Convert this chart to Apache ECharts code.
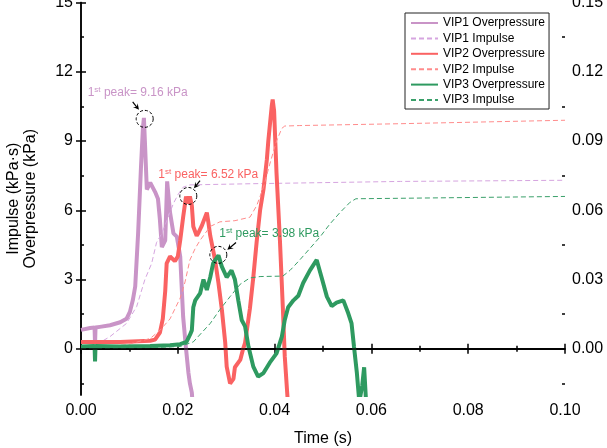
<!DOCTYPE html>
<html><head><meta charset="utf-8">
<script src="https://cdn.jsdelivr.net/npm/echarts@6/dist/echarts.min.js"></script>
<style>html,body{margin:0;padding:0;background:#fff}#c{width:607px;height:448px}</style>
</head><body><div id="c"></div>
<script>
// ---- data (time in s, overpressure in kPa, impulse in kPa·s) ----
const vip1OpT = [0,0.0019,0.0028,0.0029,0.0030,0.0039,0.0060,0.0081,0.0094,0.0101,0.0107,0.0112,0.0118,0.0124,0.0128,0.0130,0.0132,0.0136,0.0143,0.0153,0.0159,0.0163,0.0167,0.0174,0.0178,0.0184,0.0191,0.0198,0.0205,0.0208,0.0211,0.0217,0.0222,0.0225,0.0229,0.0231];
const vip1OpV = [0.82,0.90,0.92,0.20,0.92,0.95,1.02,1.15,1.30,1.60,2.10,2.70,5.00,7.90,9.60,10.00,9.00,6.90,7.20,6.80,6.50,5.60,4.40,4.70,7.25,5.90,5.00,4.86,4.00,2.70,1.40,0.00,-1.05,-1.50,-1.90,-2.50];

const vip2OpT = [0,0.0081,0.0143,0.0153,0.0163,0.0169,0.0174,0.0177,0.0184,0.0194,0.0200,0.0205,0.0211,0.0217,0.0221,0.0225,0.0229,0.0232,0.0239,0.0242,0.0249,0.0260,0.0263,0.0267,0.0277,0.0284,0.0291,0.0298,0.0301,0.0308,0.0315,0.0318,0.0329,0.0335,0.0339,0.0349,0.0356,0.0363,0.0370,0.0377,0.0384,0.0387,0.0394,0.0396,0.0399,0.0404,0.0411,0.0417,0.0421,0.0426,0.0428];
const vip2OpV = [0.30,0.30,0.35,0.40,0.70,1.30,2.50,3.70,4.00,3.80,4.00,4.70,5.70,6.60,6.30,6.60,6.20,5.30,4.90,5.00,5.30,5.90,5.50,4.90,3.85,2.85,1.70,0.26,-0.77,-1.50,-1.30,-0.80,-0.48,0.00,0.26,1.75,3.10,4.65,6.00,6.90,8.20,9.00,10.50,10.80,10.30,7.60,4.70,1.80,-0.33,-1.90,-2.50];

const vip3OpT = [0,0.0028,0.0029,0.0030,0.0081,0.0143,0.0184,0.0205,0.0218,0.0225,0.0229,0.0232,0.0236,0.0246,0.0253,0.0260,0.0267,0.0273,0.0279,0.0284,0.0291,0.0301,0.0311,0.0318,0.0325,0.0332,0.0339,0.0346,0.0356,0.0366,0.0377,0.0390,0.0404,0.0415,0.0421,0.0428,0.0439,0.0449,0.0459,0.0473,0.0487,0.0497,0.0508,0.0518,0.0528,0.0542,0.0552,0.0559,0.0564,0.0570,0.0575,0.0581,0.0585,0.0589];
const vip3OpV = [0.10,0.12,-0.55,0.12,0.10,0.12,0.15,0.20,0.30,0.60,0.80,1.80,2.10,2.40,3.00,2.55,3.10,3.70,3.90,4.05,3.56,3.10,3.40,3.00,2.10,1.25,0.97,0.10,-0.77,-1.20,-1.05,-0.60,-0.20,0.53,1.25,1.80,2.10,2.30,2.85,3.40,3.85,3.10,2.26,1.85,2.00,2.10,1.55,1.10,0.10,-1.05,-2.30,-1.60,-0.80,-2.30];

const vip1ImpT = [0,0.0025,0.0060,0.0094,0.0115,0.0132,0.0146,0.0156,0.0167,0.0180,0.0191,0.0201,0.0211,0.0225,0.0350,0.0660,0.1000];
const vip1ImpV = [0,0.0010,0.0053,0.0110,0.0183,0.0300,0.0370,0.0460,0.0500,0.0570,0.0630,0.0670,0.0700,0.0710,0.0715,0.0725,0.0730];

const vip2ImpT = [0,0.0039,0.0094,0.0143,0.0163,0.0184,0.0205,0.0215,0.0225,0.0236,0.0246,0.0267,0.0287,0.0318,0.0349,0.0363,0.0377,0.0390,0.0404,0.0415,0.0421,0.0452,0.0659,0.1000];
const vip2ImpV = [0,0.0010,0.0017,0.0045,0.0080,0.0130,0.0220,0.0290,0.0385,0.0435,0.0470,0.0530,0.0550,0.0555,0.0570,0.0620,0.0700,0.0800,0.0900,0.0955,0.0965,0.0967,0.0975,0.0990];

const vip3ImpT = [0,0.0143,0.0205,0.0232,0.0267,0.0287,0.0308,0.0329,0.0349,0.0370,0.0417,0.0432,0.0452,0.0473,0.0494,0.0514,0.0535,0.0556,0.0568,0.0659,0.1000];
const vip3ImpV = [0,0.0005,0.0010,0.0030,0.0110,0.0170,0.0226,0.0280,0.0307,0.0313,0.0315,0.0340,0.0385,0.0435,0.0485,0.0540,0.0590,0.0635,0.0650,0.0652,0.0660];

const seriesNames = ['VIP1 Overpressure','VIP1 Impulse','VIP2 Overpressure','VIP2 Impulse','VIP3 Overpressure','VIP3 Impulse'];

const xTicks = [0,0.02,0.04,0.06,0.08,0.10];
const yLeftTicks = [0,3,6,9,12,15];
const yLeftMinor = [-1.5,1.5,4.5,7.5,10.5,13.5];
const yRightTicks = [0,0.03,0.06,0.09,0.12,0.15];
const yRightMinor = [-0.015,0.015,0.045,0.075,0.105,0.135];

const peakT = [0.01316,0.02217,0.02837];
const peakV = [9.96,6.62,4.07];
const peakText = ['9.16','6.52','3.98'];

// ---- styles ----
const FONT = 'Arial, "Liberation Sans", sans-serif';
const C1 = '#C994C7', C1d = '#D6A5E0';
const C2 = '#FA6262', C2d = '#FF8C8C';
const C3 = '#2E9A60', C3d = '#3AA06A';

const zip = (t, v) => t.map((x, i) => [x, v[i]]);

const axisLineS = {show:true, lineStyle:{color:'#000', width:1.5}};
const tickS = (vals, len) => ({show:true, inside:true, length:len, customValues:vals, lineStyle:{color:'#000', width:1.5}});

const chart = echarts.init(document.getElementById('c'), null, {renderer:'canvas'});

function opLine(name, data, color){
  return {name, type:'line', data, xAxisIndex:0, yAxisIndex:0, symbol:'none', showSymbol:false,
    lineStyle:{color, width:4}, itemStyle:{color}, animation:false, clip:true};
}
function impLine(name, data, color){
  return {name, type:'line', data, xAxisIndex:0, yAxisIndex:1, symbol:'none', showSymbol:false,
    lineStyle:{color, width:1, type:[5,3]}, itemStyle:{color}, animation:false, clip:true};
}

const series = [
  opLine(seriesNames[0], zip(vip1OpT, vip1OpV), C1),
  impLine(seriesNames[1], zip(vip1ImpT, vip1ImpV), C1d),
  opLine(seriesNames[2], zip(vip2OpT, vip2OpV), C2),
  impLine(seriesNames[3], zip(vip2ImpT, vip2ImpV), C2d),
  opLine(seriesNames[4], zip(vip3OpT, vip3OpV), C3),
  impLine(seriesNames[5], zip(vip3ImpT, vip3ImpV), C3d)
];
series[5].markLine = {silent:true, symbol:['none','none'], label:{show:false},
  lineStyle:{color:'#000', width:1.5, type:'solid'}, data:[{yAxis:0}]};

const option = {
  animation:false,
  backgroundColor:'#fff',
  grid:{left:81, right:42, top:2.5, bottom:53, containLabel:false, outerBoundsMode:'none'},
  legend:{orient:'vertical', left:405, top:13, padding:[4,4,3,5], itemWidth:27, itemHeight:12, itemGap:3.4,
    borderColor:'#222', borderWidth:1, backgroundColor:'#fff',
    itemStyle:{opacity:0},
    textStyle:{fontSize:12, color:'#000', fontFamily:FONT}, data:seriesNames},
  xAxis:[
    {type:'value', position:'bottom', min:0, max:0.1, interval:0.02,
      axisLine:axisLineS, axisTick:{show:true, inside:true, length:5, lineStyle:{color:'#000', width:1.5}},
      minorTick:{show:true, splitNumber:2, length:3, lineStyle:{color:'#000', width:1.5}},
      axisLabel:{customValues:xTicks, formatter:v=>v.toFixed(2), fontSize:16, color:'#000', margin:8, fontFamily:FONT},
      splitLine:{show:false}, minorSplitLine:{show:false},
      name:'Time (s)', nameLocation:'middle', nameGap:36,
      nameTextStyle:{fontSize:16, color:'#000', fontFamily:FONT}},
    {type:'value', position:'top', min:0, max:0.1, interval:0.02,
      axisLine:axisLineS, axisTick:{show:true, inside:true, length:5, lineStyle:{color:'#000', width:1.5}},
      minorTick:{show:true, splitNumber:2, length:3, lineStyle:{color:'#000', width:1.5}},
      axisLabel:{show:false}, splitLine:{show:false}}
  ],
  yAxis:[
    {type:'value', position:'left', min:-2, max:15,
      axisLine:axisLineS, axisTick:tickS(yLeftTicks,5),
      axisLabel:{customValues:yLeftTicks, fontSize:16, color:'#000', margin:8, fontFamily:FONT},
      splitLine:{show:false},
      name:'Impulse (kPa·s)\nOverpressure (kPa)', nameLocation:'middle', nameGap:42,
      nameTextStyle:{fontSize:16, color:'#000', fontFamily:FONT, lineHeight:17, align:'center'}},
    {type:'value', position:'right', min:-0.02, max:0.15,
      axisLine:axisLineS, axisTick:tickS(yRightTicks,5),
      axisLabel:{customValues:yRightTicks, formatter:v=>v.toFixed(2), fontSize:16, color:'#000', margin:7, fontFamily:FONT},
      splitLine:{show:false}},
    {type:'value', position:'left', offset:0, min:-2, max:15,
      axisLine:{show:false}, axisTick:tickS(yLeftMinor,3), axisLabel:{show:false}, splitLine:{show:false}},
    {type:'value', position:'right', offset:0, min:-0.02, max:0.15,
      axisLine:{show:false}, axisTick:tickS(yRightMinor,3), axisLabel:{show:false}, splitLine:{show:false}}
  ],
  series
};
chart.setOption(option);

// ---- peak annotations (placed from data coordinates) ----
const annColors = [C1, C2, C3];
const textOff = [[-57,-26],[-30,-21],[1,-21]];
const arrowOff = [[[-12,-17],[-5.7,-9]],[[11.7,-15.3],[5.7,-7.7]],[[17.7,-12.3],[9,-5]]];
const graphics = [];
peakT.forEach((t, i) => {
  const p = chart.convertToPixel({xAxisIndex:0, yAxisIndex:0}, [t, peakV[i]]);
  graphics.push({type:'circle', shape:{cx:p[0], cy:p[1], r:8.5}, z:100,
    style:{fill:'none', stroke:'#000', lineWidth:1, lineDash:[3,2]}});
  const s = [p[0]+arrowOff[i][0][0], p[1]+arrowOff[i][0][1]];
  const e = [p[0]+arrowOff[i][1][0], p[1]+arrowOff[i][1][1]];
  const dx = e[0]-s[0], dy = e[1]-s[1], L = Math.hypot(dx,dy);
  const ux = dx/L, uy = dy/L, nx = -uy, ny = ux;
  const hl = 6, hw = 3;
  graphics.push({type:'line', shape:{x1:s[0], y1:s[1], x2:e[0]-ux*3, y2:e[1]-uy*3}, z:100,
    style:{stroke:'#000', lineWidth:1.2}});
  graphics.push({type:'polygon', z:100, shape:{points:[e,[e[0]-ux*hl+nx*hw, e[1]-uy*hl+ny*hw],[e[0]-ux*hl*0.6, e[1]-uy*hl*0.6],[e[0]-ux*hl-nx*hw, e[1]-uy*hl-ny*hw]]},
    style:{fill:'#000'}});
  graphics.push({type:'text', z:100, x:p[0]+textOff[i][0], y:p[1]+textOff[i][1],
    style:{text:'{n|1}{s|st}{n| peak= ' + peakText[i] + ' kPa}', fill:annColors[i], align:'left', verticalAlign:'middle',
      rich:{n:{fontSize:12, fontFamily:FONT, fill:annColors[i], lineHeight:14},
            s:{fontSize:8, fontFamily:FONT, fill:annColors[i], lineHeight:14, padding:[0,0,7,0]}}}});
});
chart.setOption({graphic:graphics});
</script></body></html>
